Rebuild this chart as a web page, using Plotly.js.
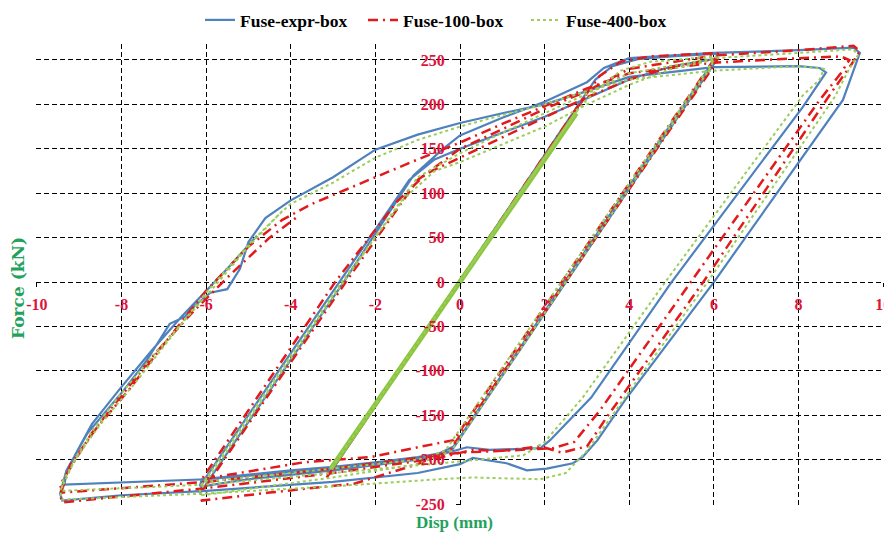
<!DOCTYPE html>
<html>
<head>
<meta charset="utf-8">
<script src="https://cdn.plot.ly/plotly-3.0.1.min.js"></script>
<style>html,body{margin:0;padding:0;background:#fff;}#chart{width:884px;height:533px;}</style>
</head>
<body>
<div id="chart"></div>
<script>
// Series names
const seriesNames = ["Fuse-expr-box", "Fuse-100-box", "Fuse-400-box"];

// Fuse-expr-box (displacement mm, force kN)
const xExpr = [
  0, 2.9, -3.1, 2.85, 3.2, 3.6, 4.2, 5, 6.1,
  5.95, -0.15,
  -0.5, -1, -2, -3, -4, -5, -6.1,
  -6.15, -2.85, -1.2, -0.6, 0, 1, 2, 3, 4, 5, 6.1,
  5.95, -0.2,
  -1, -3, -5, -6.1, -6.15,
  -2.75, -1.1, -0.4, 0, 1, 2, 3, 3.4, 4, 6, 8, 9.3, 9.45,
  9.05, 6.0, 3.9, 3.25, 2.9, 2.67, 2.05, 1.58, 1.1, 0.3, 0, -1, -3, -6, -8, -9.4,
  -9.45, -9.3, -8.8, -8, -7.4, -6.86, -6.5, -6.3, -5.9, -5.5, -5.2, -5.0, -4.6, -4, -3, -2, -1, 0, 1, 2, 3, 4, 6, 8, 8.5, 8.65,
  8.1, 5.0, 3.1, 2.13, 1.9, 0.7, 0.16, -0.5, -3, -6, -9.35,
  -9.3, -9.1, -8.7, -8, -7.3, -6.6, -6.1, -5.5, -4.8
];
const yExpr = [
  0, 205, -217, 203, 228, 243, 251, 254, 257,
  246, -185,
  -193, -197, -203, -208, -212, -217, -222,
  -230, 0, 115, 138, 150, 168, 186, 207, 228, 243, 252,
  242, -190,
  -200, -212, -222, -230, -238,
  0, 120, 150, 165, 185, 203, 225, 241, 252, 258, 261, 264, 258,
  205, 0, -133, -178, -197, -204, -210, -212, -204, -198, -205, -215, -225, -235, -240, -246,
  -238, -212, -170, -125, -88, -47, -39, -28, -12, -8, 15, 45, 72, 92, 118, 149, 166, 179, 190, 200, 215, 231, 242, 243, 241, 236,
  197, 0, -130, -178, -187, -189, -186, -195, -210, -222, -228,
  -215, -195, -160, -118, -78, -40, -15, 15, 52
];

// Fuse-100-box
const x100 = [
  0, 2.95, -3.15, 2.9, 3.3, 3.8, 4.5, 6.1,
  5.95, -0.15,
  -1, -2.1, -3.7, -6.05,
  -6.1, -2.95, -1.5, -0.8, 0, 1, 2, 3, 4, 5, 6.1,
  5.95, -0.25,
  -1, -2.5, -4.5, -6.1,
  -6.15, -2.7, -1.0, 0, 1, 2, 3, 4, 6, 8, 9.3, 9.45,
  9.25, 8.8, 5.75, 3.5, 3.0, 2.4, 1.9, 1, 0.3, -0.5, -3, -6, -9.4,
  -9.45, -9.2, -8.6, -7.8, -7, -6.3, -6, -5, -4.2, -3.5, -2, -1, 0, 1, 2, 3, 4, 6, 8, 9, 9.2,
  9.0, 8.5, 5.45, 3.3, 2.7, 2.2, 1, 0, -3, -6, -9.4,
  -9.45, -8.7, -8, -7.2, -6.4, -5.5, -4.5, -3.8
];
const y100 = [
  0, 208, -220, 206, 232, 248, 254, 258,
  247, -178,
  -186, -197, -203, -221,
  -222, 0, 90, 122, 140, 163, 185, 208, 228, 242, 252,
  240, -190,
  -205, -227, -237, -246,
  -240, 0, 115, 150, 172, 195, 215, 240, 255, 261, 266, 260,
  245, 215, 0, -150, -185, -192, -185, -190, -189, -198, -215, -232, -248,
  -240, -205, -165, -120, -70, -28, -10, 40, 70, 88, 118, 138, 157, 178, 198, 218, 235, 247, 252, 254, 250,
  235, 205, 0, -145, -180, -187, -190, -192, -210, -225, -237,
  -228, -170, -128, -80, -38, 5, 50, 75
];

// Fuse-400-box
const x400 = [
  0, 2.8, -3.05, 2.8, -3.05, 2.8, 3.2, 3.8, 4.5, 6.05,
  5.9, -0.35,
  -1, -3, -6.05,
  -6.1, -2.8, -1.3, -0.6, 0, 1, 2, 3, 4, 5, 6,
  5.9, -0.2,
  -1, -3, -6.1,
  -6.15, -2.75, -1, 0, 1, 2, 3, 4, 6, 8, 9.3, 9.4,
  9.2, 8.85, 5.85, 3.6, 3.0, 2.5, 1.9, 0.3, -0.5, -3, -6, -9.4,
  -9.45, -9.1, -8.5, -7.7, -7, -6.3, -6, -5, -4.3, -4, -3, -2, -1, 0, 1, 2, 3, 4, 6, 8, 8.6,
  8.5, 8.1, 4.85, 2.9, 2.0, 1.5, 0.5, 0, -3, -6, -9.4,
  -9.4, -8.7, -8, -7.2, -6.5, -5.8, -5, -4.2
];
const y400 = [
  0, 195, -210, 195, -210, 195, 215, 238, 248, 254,
  243, -190,
  -200, -210, -225,
  -228, 0, 95, 125, 135, 155, 175, 200, 222, 240, 250,
  240, -190,
  -205, -220, -240,
  -235, 0, 118, 145, 168, 190, 212, 235, 252, 258, 262, 255,
  240, 208, 0, -150, -190, -215, -222, -220, -222, -230, -238, -245,
  -235, -200, -160, -115, -72, -30, -12, 42, 75, 88, 112, 140, 160, 175, 188, 200, 215, 228, 238, 243, 240,
  228, 210, 0, -130, -180, -195, -200, -202, -215, -228, -235,
  -225, -168, -125, -80, -42, -5, 40, 80
];
// Fuse-400-box repeated small elastic cycles (drawn solid where dots overlap)
const x400small = [-3.05, 2.75];
const y400small = [-210, 190];

// Tick values / labels
const xTicks = [-10, -8, -6, -4, -2, 0, 2, 4, 6, 8, 10];
const yTicks = [-250, -200, -150, -100, -50, 0, 50, 100, 150, 200, 250];

const blue = "#4f81bd", red = "#e31a1c", green = "#9acd5a", green2 = "#8cc63f";
const tickFont = {family: "Liberation Serif", size: 16, color: "#dc143c", weight: "bold"};
const titleColor = "#1fa35c";

const traces = [
  {x: xExpr, y: yExpr, name: seriesNames[0], mode: "lines", type: "scatter",
   line: {color: blue, width: 2.2}},
  {x: x100, y: y100, name: seriesNames[1], mode: "lines", type: "scatter",
   line: {color: red, width: 2.5, dash: "10px,5px,2px,5px"}},
  {x: x400small, y: y400small, name: seriesNames[2], mode: "lines", type: "scatter",
   line: {color: green2, width: 5}, showlegend: false, legendgroup: "g400"},
  {x: x400, y: y400, name: seriesNames[2], mode: "lines", type: "scatter",
   line: {color: green, width: 2, dash: "dot"}, legendgroup: "g400"}
];

const gridStyle = {showgrid: true, gridcolor: "#000", gridwidth: 1, griddash: "5px,3px",
  zeroline: false, showline: false, ticklabeloverflow: "allow"};

const layout = {
  width: 884, height: 533,
  margin: {l: 36, r: 0, t: 44, b: 28},
  paper_bgcolor: "#fff", plot_bgcolor: "#fff",
  showlegend: true,
  legend: {orientation: "h", x: 0.1934, xanchor: "left", y: 1.052, yanchor: "middle",
    font: {family: "Liberation Serif", size: 17.5, color: "#000", weight: "bold"},
    bgcolor: "rgba(0,0,0,0)", traceorder: "normal", entrywidth: 118},
  xaxis: Object.assign({range: [-10.02, 10.02], tickvals: xTicks, ticktext: xTicks.map(String),
    anchor: "free", position: 0.5, ticks: "outside", ticklen: 4, tickcolor: "#000",
    ticklabelstandoff: 4, tickfont: tickFont}, gridStyle),
  yaxis: Object.assign({range: [-251, 268], tickvals: yTicks, ticktext: yTicks.map(String),
    anchor: "free", position: 0.5, ticks: "outside", ticklen: 4, tickcolor: "#000",
    ticklabelstandoff: 8, tickfont: tickFont}, gridStyle),
  annotations: [
    {text: "Force (kN)", xref: "paper", yref: "paper", x: -0.0212, y: 0.471,
     xanchor: "center", yanchor: "middle", textangle: -90, showarrow: false,
     font: {family: "DejaVu Serif", size: 17, color: titleColor, weight: "bold"}},
    {text: "Disp (mm)", xref: "paper", yref: "paper", x: 0.494, y: -0.037,
     xanchor: "center", yanchor: "middle", showarrow: false,
     font: {family: "Liberation Serif", size: 17, color: titleColor, weight: "bold"}}
  ]
};
// x axis crosses at force = 0
layout.xaxis.position = (0 - layout.yaxis.range[0]) / (layout.yaxis.range[1] - layout.yaxis.range[0]);

Plotly.newPlot("chart", traces, layout, {staticPlot: true, displayModeBar: false});
</script>
</body>
</html>
